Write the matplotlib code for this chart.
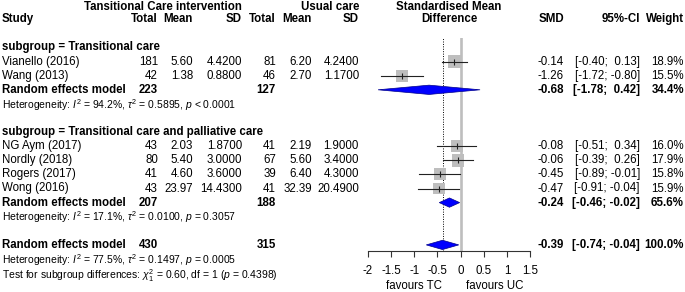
import numpy as np
import matplotlib
matplotlib.use("Agg")
import matplotlib.pyplot as plt
from matplotlib.patches import Polygon

plt.rcParams['font.family'] = ['Liberation Sans', 'DejaVu Sans']
plt.rcParams['mathtext.fontset'] = 'custom'
plt.rcParams['mathtext.rm'] = 'Liberation Sans'
plt.rcParams['mathtext.it'] = 'Liberation Sans:italic'
plt.rcParams['mathtext.bf'] = 'Liberation Sans:bold'

# study level data
studies = ["Vianello (2016)", "Wang (2013)", "NG Aym (2017)", "Nordly (2018)",
           "Rogers (2017)", "Wong (2016)"]
group = [0, 0, 1, 1, 1, 1]
tc_n = [181, 42, 43, 80, 41, 43]
tc_mean = [5.60, 1.38, 2.03, 5.40, 4.60, 23.97]
tc_sd = [4.42, 0.88, 1.87, 3.00, 3.60, 14.43]
uc_n = [81, 46, 41, 67, 39, 41]
uc_mean = [6.20, 2.70, 2.19, 5.60, 6.40, 32.39]
uc_sd = [4.24, 1.17, 1.90, 3.40, 4.30, 20.49]
smd = [-0.14, -1.26, -0.08, -0.06, -0.45, -0.47]
ci_lo = [-0.40, -1.72, -0.51, -0.39, -0.89, -0.91]
ci_hi = [0.13, -0.80, 0.34, 0.26, -0.01, -0.04]
weight = [18.9, 15.5, 16.0, 17.9, 15.8, 15.9]

# subgroup summaries
sub_names = ["subgroup = Transitional care",
             "subgroup = Transitional care and palliative care"]
sub_tc_n = [223, 207]
sub_uc_n = [127, 188]
sub_smd = [-0.68, -0.24]
sub_lo = [-1.78, -0.46]
sub_hi = [0.42, -0.02]
sub_w = [34.4, 65.6]
sub_het = [r"Heterogeneity: $I^2$ = 94.2%, $\tau^2$ = 0.5895, $p$ < 0.0001",
           r"Heterogeneity: $I^2$ = 17.1%, $\tau^2$ = 0.0100, $p$ = 0.3057"]

# overall
all_tc_n, all_uc_n = 430, 315
all_smd, all_lo, all_hi, all_w = -0.39, -0.74, -0.04, 100.0
all_het = r"Heterogeneity: $I^2$ = 77.5%, $\tau^2$ = 0.1497, $p$ = 0.0005"
test_txt = r"Test for subgroup differences: $\chi^2_1$ = 0.60, df = 1 ($p$ = 0.4398)"

xticks = [-2, -1.5, -1, -0.5, 0, 0.5, 1, 1.5]

W, H = 685, 292
row_h = 14.1
row0 = 19.3

fig = plt.figure(figsize=(W / 100, H / 100), dpi=100)
ax = fig.add_axes([0, 0, 1, 1])
ax.set_xlim(0, W)
ax.set_ylim((H - row0) / row_h, -row0 / row_h)
ax.axis('off')

# forest panel: x from -2 (366px) to 1.5 (532px), axis line at 251px
fx0, fx1 = 366, 532
ftop, fbot = 38, 251
fa = fig.add_axes([fx0 / W, 1 - fbot / H, (fx1 - fx0) / W, (fbot - ftop) / H])
fa.set_ylim((fbot - row0) / row_h, (ftop - row0) / row_h)
fa.patch.set_visible(False)
for s in ['top', 'right', 'left']:
    fa.spines[s].set_visible(False)
fa.spines['bottom'].set_bounds(-2, 1.5)
fa.spines['bottom'].set_linewidth(0.8)
fa.spines['bottom'].set_color('#333333')
fa.set_yticks([])
fa.set_xticks(xticks)
fa.set_xticklabels([f"{t:g}" for t in xticks])
fa.tick_params(axis='x', direction='out', length=4.5, width=0.8, color='#333333',
               labelsize=8.3, pad=5.5)
fa.set_xlim(-2.04, 1.54)

fa.axvline(0, color='#BEBEBE', lw=1.9, zorder=1)
fa.axvline(all_smd, color='black', lw=0.7, ls=(0, (1, 1.5)), zorder=1)

fs = 8.3
fs_small = 7.5
col_tc_n, col_tc_m, col_tc_sd = 158, 193, 242
col_uc_n, col_uc_m, col_uc_sd = 276, 312, 359
col_smd, col_ci, col_w = 564, 640, 684


def fmt_ci(lo, hi):
    return f"[{lo:5.2f}; {hi:5.2f}]"


def txt(x, r, s, ha='left', bold=False, size=fs):
    ax.text(x, r, s, ha=ha, va='center', fontsize=size,
            fontweight='bold' if bold else 'normal', color='black')


def diamond(r, est, lo, hi):
    hh = 0.33
    fa.add_patch(Polygon([(lo, r), (est, r - hh), (hi, r), (est, r + hh)],
                         closed=True, facecolor='#0000FF', edgecolor='#00008B',
                         lw=0.5, zorder=3))


def summary_row(r, tcn, ucn, est, lo, hi, w):
    txt(2, r, "Random effects model", bold=True)
    txt(col_tc_n, r, str(tcn), ha='right', bold=True)
    txt(col_uc_n, r, str(ucn), ha='right', bold=True)
    txt(col_smd, r, f"{est:.2f}", ha='right', bold=True)
    txt(col_ci, r, fmt_ci(lo, hi), ha='right', bold=True)
    txt(col_w, r, f"{w:.1f}%", ha='right', bold=True)
    diamond(r, est, lo, hi)


# headers
hr = -0.9
txt(col_tc_sd, hr, "Tansitional Care intervention", ha='right', bold=True)
txt(col_uc_sd, hr, "Usual care", ha='right', bold=True)
txt((fx0 + fx1) / 2, hr, "Standardised Mean", ha='center', bold=True)
txt(2, 0, "Study", bold=True)
for x, s in [(col_tc_n, "Total"), (col_tc_m, "Mean"), (col_tc_sd, "SD"),
             (col_uc_n, "Total"), (col_uc_m, "Mean"), (col_uc_sd, "SD"),
             (col_smd, "SMD"), (col_ci, "95%-CI"), (col_w, "Weight")]:
    txt(x, 0, s, ha='right', bold=True)
txt((fx0 + fx1) / 2, 0, "Difference", ha='center', bold=True)

r = 2
for g in range(len(sub_names)):
    txt(2, r, sub_names[g], bold=True)
    r += 1
    for i in [k for k in range(len(studies)) if group[k] == g]:
        txt(2, r, studies[i])
        txt(col_tc_n, r, str(tc_n[i]), ha='right')
        txt(col_tc_m, r, f"{tc_mean[i]:.2f}", ha='right')
        txt(col_tc_sd, r, f"{tc_sd[i]:.4f}", ha='right')
        txt(col_uc_n, r, str(uc_n[i]), ha='right')
        txt(col_uc_m, r, f"{uc_mean[i]:.2f}", ha='right')
        txt(col_uc_sd, r, f"{uc_sd[i]:.4f}", ha='right')
        txt(col_smd, r, f"{smd[i]:.2f}", ha='right')
        txt(col_ci, r, fmt_ci(ci_lo[i], ci_hi[i]), ha='right')
        txt(col_w, r, f"{weight[i]:.1f}%", ha='right')
        fa.scatter([smd[i]], [r], s=4.6 * weight[i], marker='s', color='#BEBEBE',
                   edgecolors='none', zorder=2)
        fa.plot([ci_lo[i], ci_hi[i]], [r, r], color='#222222', lw=0.8, zorder=3)
        fa.plot([smd[i]], [r], marker='|', ms=4, color='#222222', mew=0.8, zorder=4)
        r += 1
    summary_row(r, sub_tc_n[g], sub_uc_n[g], sub_smd[g], sub_lo[g], sub_hi[g], sub_w[g])
    r += 1
    txt(2, r + 0.05, sub_het[g], size=fs_small)
    r += 2

summary_row(r, all_tc_n, all_uc_n, all_smd, all_lo, all_hi, all_w)
txt(2, r + 1.1, all_het, size=fs_small)
txt(2, r + 2.2, test_txt, size=fs_small)

# favours labels under the axis
fav_r = (286 - row0) / row_h
txt(442, fav_r, "favours TC", ha='right')
txt(466, fav_r, "favours UC", ha='left')

fig.savefig("out.png", dpi=100)
